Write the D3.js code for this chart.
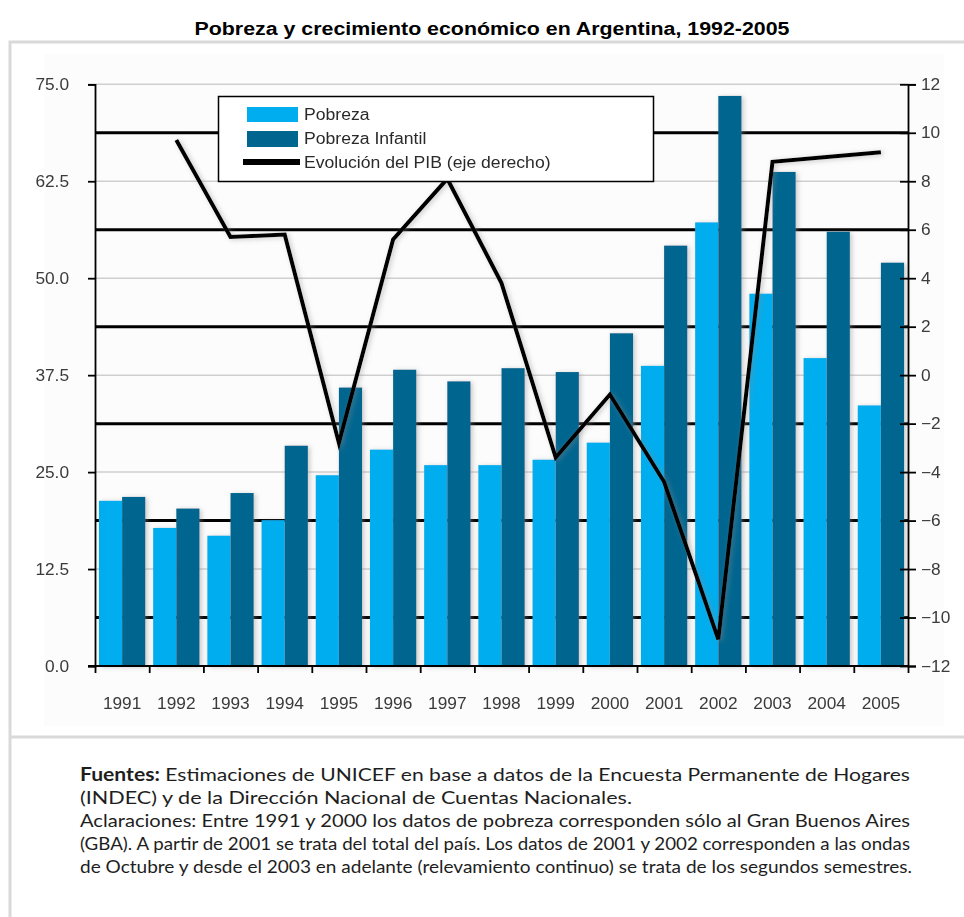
<!DOCTYPE html>
<html lang="es">
<head>
<meta charset="utf-8">
<script src="https://cdn.jsdelivr.net/npm/d3@7"></script>
<style>
  html, body { margin: 0; padding: 0; background: #fff; }
  svg { display: block; }
</style>
</head>
<body>
<svg id="chart" width="964" height="917"></svg>
<script>
// Poverty (% of people) and GDP growth (% yearly), Argentina
const years = ["1991","1992","1993","1994","1995","1996","1997","1998","1999","2000","2001","2002","2003","2004","2005"];
const pobreza = [21.3, 17.8, 16.8, 18.8, 24.6, 27.9, 25.9, 25.9, 26.6, 28.8, 38.7, 57.2, 48.0, 39.7, 33.6];
const pobrezaInfantil = [21.8, 20.3, 22.3, 28.4, 35.9, 38.2, 36.7, 38.4, 37.9, 42.9, 54.2, 73.5, 63.7, 56.0, 52.0];
const pibYears = ["1992","1993","1994","1995","1996","1997","1998","1999","2000","2001","2002","2003","2004","2005"];
const pib = [9.7, 5.7, 5.8, -2.8, 5.6, 8.1, 3.8, -3.4, -0.8, -4.4, -10.9, 8.8, 9.0, 9.2];

const leftTicks = [0, 12.5, 25, 37.5, 50, 62.5, 75];
const rightTicks = [-12, -10, -8, -6, -4, -2, 0, 2, 4, 6, 8, 10, 12];
const darkGridValues = [10, 6, 2, -2, -6, -10];

const seriesNames = ["Pobreza", "Pobreza Infantil", "Evolución del PIB (eje derecho)"];
const title = "Pobreza y crecimiento económico en Argentina, 1992-2005";
const notes = [
  [{t: "Fuentes:", b: true}, {t: " Estimaciones de UNICEF en base a datos de la Encuesta Permanente de Hogares"}],
  [{t: "(INDEC) y de la Dirección Nacional de Cuentas Nacionales."}],
  [{t: "Aclaraciones: Entre 1991 y 2000 los datos de pobreza corresponden sólo al Gran Buenos Aires"}],
  [{t: "(GBA). A partir de 2001 se trata del total del país. Los datos de 2001 y 2002 corresponden a las ondas"}],
  [{t: "de Octubre y desde el 2003 en adelante (relevamiento continuo) se trata de los segundos semestres."}]
];

const colLight = "#00adee";
const colDark = "#006690";
const sans = "Arial, 'Liberation Sans', sans-serif";

const svg = d3.select("#chart");
const plotLeft = 95, plotRight = 908, plotTop = 84.3, plotBottom = 666;

// stretch text horizontally by a factor k (the artwork uses wide lettering)
function widen(sel, k) {
  sel.each(function () {
    const w = this.getComputedTextLength();
    this.setAttribute("textLength", w * k);
    this.setAttribute("lengthAdjust", "spacingAndGlyphs");
  });
}

// soft shadow used by the bars and the line
const defs = svg.append("defs");
const f = defs.append("filter").attr("id", "shadow")
  .attr("x", "-30%").attr("y", "-10%").attr("width", "160%").attr("height", "120%");
f.append("feDropShadow").attr("dx", 2).attr("dy", 1).attr("stdDeviation", 2.5)
  .attr("flood-color", "#888").attr("flood-opacity", 0.45);
defs.append("filter").attr("id", "soft").append("feGaussianBlur").attr("stdDeviation", 0.35);

// frame
svg.append("rect").attr("x", 10).attr("y", 42).attr("width", 990).attr("height", 900)
  .attr("fill", "#fff").attr("stroke", "#d9d9d9").attr("stroke-width", 3);
svg.append("rect").attr("x", 44).attr("y", 54).attr("width", 900).attr("height", 672)
  .attr("fill", "#fcfcfc");
svg.append("line").attr("x1", 10).attr("x2", 970).attr("y1", 737).attr("y2", 737)
  .attr("stroke", "#d9d9d9").attr("stroke-width", 3);

// title
const titleText = svg.append("text").attr("x", 492).attr("y", 35).attr("text-anchor", "middle")
  .attr("font-family", sans).attr("font-weight", "bold")
  .attr("font-size", 18).attr("fill", "#000").text(title);
titleText.attr("textLength", 595).attr("lengthAdjust", "spacingAndGlyphs");

// scales
const yL = d3.scaleLinear().domain([0, 75]).range([plotBottom, plotTop]);
const yR = d3.scaleLinear().domain([-12, 12]).range([plotBottom, plotTop]);
const x = d3.scaleBand().domain(years).range([plotLeft, plotRight]).padding(0);
const sub = d3.scaleBand().domain(["p", "i"]).range([0, x.bandwidth()]).paddingInner(0).paddingOuter(0.17);
const xEdge = d3.scaleLinear().domain([0, years.length]).range([plotLeft, plotRight]);

// gridlines
const g = svg.append("g");
g.selectAll(".gl").data(leftTicks.filter(d => d > 0)).join("line")
  .attr("x1", plotLeft).attr("x2", plotRight).attr("y1", d => yL(d)).attr("y2", d => yL(d))
  .attr("stroke", "#cfcfcf").attr("stroke-width", 1.5);
g.selectAll(".gd").data(darkGridValues).join("line")
  .attr("x1", plotLeft).attr("x2", plotRight).attr("y1", d => yR(d)).attr("y2", d => yR(d))
  .attr("stroke", "#000").attr("stroke-width", 3);

// bars
const bars = svg.append("g").attr("filter", "url(#shadow)");
years.forEach((yr, i) => {
  bars.append("rect").attr("x", x(yr) + sub("p")).attr("width", sub.bandwidth())
    .attr("y", yL(pobreza[i])).attr("height", yL(0) - yL(pobreza[i])).attr("fill", colLight);
  bars.append("rect").attr("x", x(yr) + sub("i")).attr("width", sub.bandwidth())
    .attr("y", yL(pobrezaInfantil[i])).attr("height", yL(0) - yL(pobrezaInfantil[i])).attr("fill", colDark);
});

// GDP line on the right axis
const line = d3.line().x(d => x(d[0]) + x.bandwidth() / 2).y(d => yR(d[1]));
svg.append("path").datum(pibYears.map((y, i) => [y, pib[i]]))
  .attr("d", line).attr("fill", "none").attr("stroke", "#000").attr("stroke-width", 4)
  .attr("stroke-linejoin", "miter").attr("filter", "url(#shadow)");

function styleTicks(ax) {
  ax.selectAll(".tick text").attr("font-family", sans).attr("font-size", 16).attr("fill", "#3a3a3a")
    .attr("filter", "url(#soft)");
}

// left axis
const axL = svg.append("g").attr("transform", `translate(${plotLeft},0)`)
  .call(d3.axisLeft(yL).tickValues(leftTicks).tickFormat(d3.format(".1f")).tickSize(7).tickPadding(19));
axL.select(".domain").attr("stroke-width", 1.8);
axL.selectAll(".tick line").attr("stroke-width", 1.8);
styleTicks(axL);

// right axis, ticks crossing the axis line
const axR = svg.append("g").attr("transform", `translate(${plotRight},0)`)
  .call(d3.axisRight(yR).tickValues(rightTicks).tickFormat(d3.format("d")).tickSize(8).tickPadding(5));
axR.select(".domain").attr("stroke-width", 1.8);
axR.selectAll(".tick line").attr("x1", -8).attr("stroke-width", 1.8);
styleTicks(axR);

// bottom axis: ticks at band edges, labels at band centres
const axB = svg.append("g").attr("transform", `translate(0,${plotBottom})`)
  .call(d3.axisBottom(xEdge).tickValues(d3.range(years.length + 1)).tickFormat("").tickSize(7).tickSizeOuter(0));
axB.select(".domain").attr("stroke-width", 1.8).attr("d", `M${plotLeft - 7},0H${plotRight}`);
axB.selectAll(".tick line").attr("stroke-width", 1.8);
const axBL = svg.append("g").attr("transform", `translate(0,${plotBottom})`)
  .call(d3.axisBottom(x).tickSize(0).tickPadding(32));
axBL.select(".domain").remove();
styleTicks(axBL);

widen(svg.selectAll(".tick text"), 1.08);

// legend
const lg = svg.append("g");
lg.append("rect").attr("x", 218.5).attr("y", 96.5).attr("width", 435).attr("height", 85)
  .attr("fill", "#fff").attr("stroke", "#000").attr("stroke-width", 1.5);
lg.append("rect").attr("x", 247).attr("y", 107).attr("width", 51).attr("height", 15).attr("fill", colLight);
lg.append("rect").attr("x", 247).attr("y", 131).attr("width", 51).attr("height", 16).attr("fill", colDark);
lg.append("line").attr("x1", 243).attr("x2", 300).attr("y1", 162).attr("y2", 162)
  .attr("stroke", "#000").attr("stroke-width", 6);
const legTexts = lg.selectAll(".lt").data(seriesNames).join("text")
  .attr("x", 304).attr("y", (d, i) => [120, 144, 168][i])
  .attr("font-family", sans).attr("font-size", 16)
  .attr("fill", "#2a2a2a").attr("filter", "url(#soft)").text(d => d);
widen(legTexts, 1.1);

// notes below the chart
const noteY = [781, 804, 827, 850, 873];
const noteWidth = [830, 552, 830, 830, 832];
notes.forEach((parts, i) => {
  const t = svg.append("text").attr("x", 80).attr("y", noteY[i])
    .attr("font-family", "Lato, 'Open Sans', sans-serif")
    .attr("font-size", 18).attr("fill", "#1e1e1e")
    .attr("textLength", noteWidth[i]).attr("lengthAdjust", "spacingAndGlyphs");
  parts.forEach(p => {
    t.append("tspan").attr("font-weight", p.b ? "bold" : null).text(p.t);
  });
});
</script>
</body>
</html>
